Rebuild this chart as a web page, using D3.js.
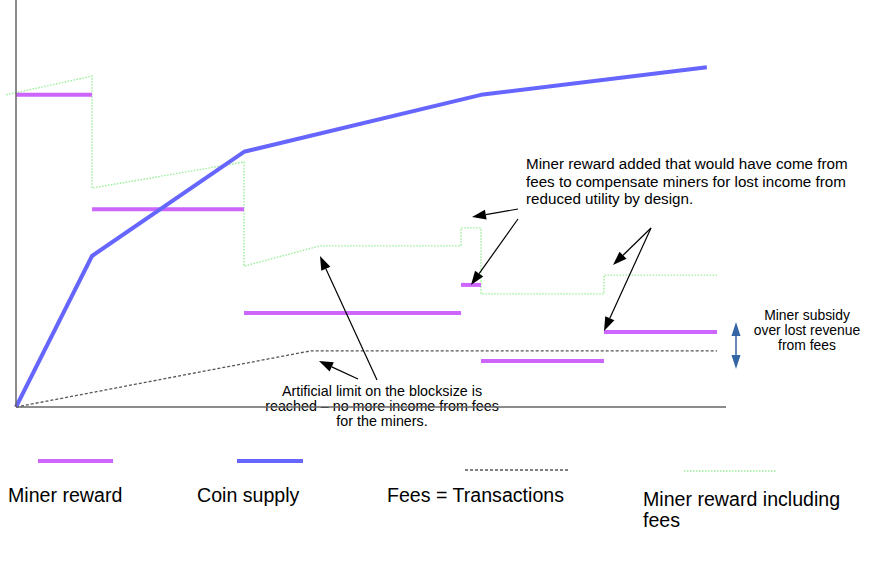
<!DOCTYPE html>
<html><head><meta charset="utf-8">
<script src="https://cdn.jsdelivr.net/npm/d3@7"></script>
<style>body{margin:0;background:#fff}svg{display:block;font-family:"Liberation Sans",Arial,sans-serif}</style>
</head><body><svg id="c" width="878" height="569"></svg>
<script>
// Miner reward (step segments)
const rewardStart = [0, 1, 3, 5.855, 6.118, 7.737];
const rewardEnd   = [1, 3, 5.855, 6.118, 7.737, 9.224];
const rewardValue = [76.7, 48.6, 23.1, 30.0, 11.3, 18.4];
// Coin supply
const supplyX = [0, 1, 3, 6.118, 9.09];
const supplyY = [0, 37.1, 62.7, 76.7, 83.5];
// Fees = Transactions
const feesX = [0, 3.88, 9.224];
const feesY = [0, 13.8, 13.8];
// Miner reward including fees
const totalX = [-0.13, 1, 1, 3, 3, 4, 5.855, 5.855, 6.118, 6.118, 7.737, 7.737, 9.224];
const totalY = [76.7, 81.3, 53.8, 60.2, 34.6, 39.6, 39.6, 44.0, 44.0, 27.8, 27.8, 32.4, 32.4];
const legendLabels = ["Miner reward", "Coin supply", "Fees = Transactions", "Miner reward including fees"];

const svg = d3.select("#c");
const x = d3.scaleLinear().domain([0, 9.342]).range([16, 726]);
const y = d3.scaleLinear().domain([0, 100]).range([407, 0]);
const line = d3.line().x(d => x(d[0])).y(d => y(d[1]));

const C = {purple:"#cc66ff", blue:"#6666ff", gray:"#555", green:"#99ee99"};

// fees dashed
svg.append("path").attr("d", line(d3.zip(feesX, feesY))).attr("fill","none")
  .attr("stroke", C.gray).attr("stroke-width",1.3).attr("stroke-dasharray","3,2");
// green dotted
svg.append("path").attr("d", line(d3.zip(totalX, totalY))).attr("fill","none")
  .attr("stroke", C.green).attr("stroke-width",1.4).attr("stroke-dasharray","1.5,1.5");
// miner reward segments
svg.selectAll("line.rw").data(rewardValue).join("line").attr("class","rw")
  .attr("x1",(d,i)=>x(rewardStart[i])).attr("x2",(d,i)=>x(rewardEnd[i]))
  .attr("y1",d=>y(d)).attr("y2",d=>y(d))
  .attr("stroke",C.purple).attr("stroke-width",4);
// coin supply
svg.append("path").attr("d", line(d3.zip(supplyX, supplyY))).attr("fill","none")
  .attr("stroke", C.blue).attr("stroke-width",4).attr("stroke-linejoin","round");

// annotation text
function ml(lines, tx, ty, lh, size, anchor){
  const t = svg.append("text").attr("font-size",size).attr("fill","#000").attr("text-anchor",anchor);
  lines.forEach((s,i)=>t.append("tspan").attr("x",tx).attr("y",ty+i*lh).text(s));
}
ml(["Miner reward added that would have come from","fees to compensate miners for lost income from","reduced utility by design."],526,169,17.5,15.2,"start");
ml(["Artificial limit on the blocksize is","reached \u2013 no more income from fees","for the miners."],382,396,15,14.3,"middle");
ml(["Miner subsidy","over lost revenue","from fees"],807,320,15,13.9,"middle");

// axes
const axg = svg.append("g");
axg.append("line").attr("x1",x(0)).attr("x2",x(0)).attr("y1",y(100)).attr("y2",y(0)).attr("stroke","#666").attr("stroke-width",1.5);
axg.append("line").attr("x1",x(0)).attr("x2",x(9.342)).attr("y1",y(0)).attr("y2",y(0)).attr("stroke","#666").attr("stroke-width",1.5);

// arrows
function arrow(x1,y1,x2,y2,color,len,hw,sw){
  const a = Math.atan2(y2-y1,x2-x1);
  const bx = x2 - len*Math.cos(a), by = y2 - len*Math.sin(a);
  svg.append("line").attr("x1",x1).attr("y1",y1).attr("x2",bx).attr("y2",by).attr("stroke",color).attr("stroke-width",sw);
  const px = -Math.sin(a)*hw, py = Math.cos(a)*hw;
  svg.append("path").attr("d",`M${x2},${y2}L${bx+px},${by+py}L${bx-px},${by-py}Z`).attr("fill",color);
}
arrow(518,209,472,217,"#000",14,5,1.2);
arrow(518,219,471,285,"#000",14,5,1.2);
arrow(651,228,613,265,"#000",14,5,1.2);
arrow(651,228,604,331,"#000",14,5,1.2);
arrow(377,380,320,256,"#000",14,5,1.2);
arrow(358,379,319,361,"#000",14,5,1.2);
// blue double arrow
arrow(736,345,736,322,"#3465a4",14,4.5,1.5);
arrow(736,345,736,369,"#3465a4",14,4.5,1.5);

// legend
const lg = svg.append("g");
lg.append("line").attr("x1",38).attr("x2",113).attr("y1",461).attr("y2",461).attr("stroke",C.purple).attr("stroke-width",4);
lg.append("line").attr("x1",237).attr("x2",303).attr("y1",461).attr("y2",461).attr("stroke",C.blue).attr("stroke-width",4);
lg.append("line").attr("x1",465).attr("x2",569).attr("y1",470).attr("y2",470).attr("stroke",C.gray).attr("stroke-width",1.3).attr("stroke-dasharray","3,2");
lg.append("line").attr("x1",684).attr("x2",776).attr("y1",471).attr("y2",471).attr("stroke",C.green).attr("stroke-width",1.4).attr("stroke-dasharray","1.5,1.5");
const lt = (s,tx,ty)=>lg.append("text").attr("x",tx).attr("y",ty).attr("font-size",19.6).text(s);
lt(legendLabels[0],8,502);
lt(legendLabels[1],197,502);
lt(legendLabels[2],387,502);
const t4 = lg.append("text").attr("font-size",19.6);
t4.append("tspan").attr("x",643).attr("y",506).text("Miner reward including");
t4.append("tspan").attr("x",643).attr("y",527).text("fees");
</script></body></html>
